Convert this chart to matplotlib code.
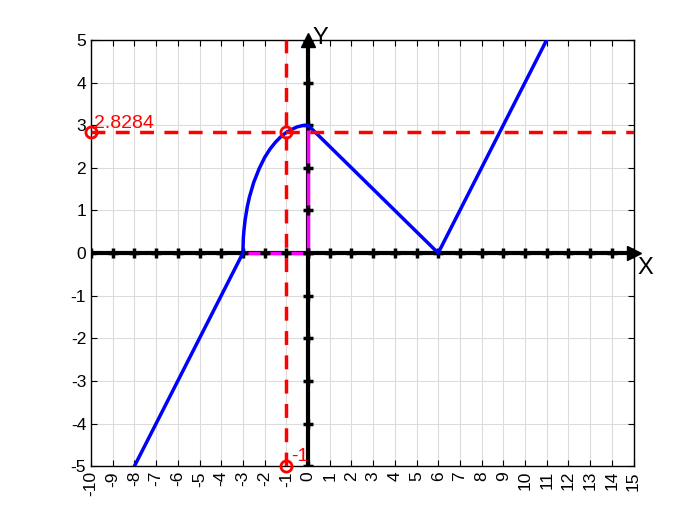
import numpy as np
import matplotlib
matplotlib.use("Agg")
import matplotlib.pyplot as plt

plt.rcParams['font.family'] = ['Liberation Sans', 'DejaVu Sans']
plt.rcParams['axes.unicode_minus'] = False

# curve
curve_x = [-8, -3, -3, -2.98, -2.95, -2.9, -2.8, -2.7, -2.5, -2.25, -2.0, -1.75,
           -1.5, -1.25, -1.0, -0.75, -0.5, -0.25, 0, 6, 11]
curve_y = [-5, 0, 0, 0.35, 0.54, 0.77, 1.08, 1.31, 1.66, 1.98, 2.24, 2.44,
           2.60, 2.73, 2.83, 2.90, 2.96, 2.99, 3, 0, 5]

x0 = -1
y0 = 2.8284
xlim = [-10, 15]
ylim = [-5, 5]
xticks = list(range(-10, 16))
yticks = list(range(-5, 6))
magenta_x = [-3, 0, 0]
magenta_y = [0, 0, 3]

fig = plt.figure(figsize=(7, 5.25), dpi=100)
ax = fig.add_axes([0.13, 0.112, 0.775, 0.812])
ax.set_xlim(xlim)
ax.set_ylim(ylim)
ax.set_xticks(xticks)
ax.set_yticks(yticks)
ax.set_xticklabels([str(t) for t in xticks], rotation=90)
ax.tick_params(direction='in', top=True, right=True, labelsize=12.5, length=4)
ax.grid(True, color='#dcdcdc', linewidth=0.8)
ax.set_axisbelow(True)
for s in ax.spines.values():
    s.set_linewidth(1.0)

# coordinate axes through origin
ax.plot(xlim, [0, 0], color='k', lw=3, zorder=3)
ax.plot([0, 0], ylim, color='k', lw=3, zorder=3)
ax.plot(magenta_x, magenta_y, color='magenta', lw=2.5, zorder=4)
ax.plot(xticks, [0] * len(xticks), 'k+', ms=7, mew=2.5, zorder=5)
ax.plot([0] * len(yticks), yticks, 'k+', ms=7, mew=2.5, zorder=5)
ax.plot([15], [0], 'k>', ms=10, clip_on=False, zorder=6)
ax.plot([0], [5], 'k^', ms=10, clip_on=False, zorder=6)
ax.text(15.2, -0.1, 'X', fontsize=17, va='top', ha='left')
ax.text(0.2, 5.05, 'Y', fontsize=17, va='center', ha='left')

# function curve
ax.plot(curve_x, curve_y, color='b', lw=2.5, zorder=7)

# red guides
ax.plot(xlim, [y0, y0], 'r--', lw=2.5, dashes=(4, 3), zorder=8)
ax.plot([x0, x0], ylim, 'r--', lw=2.5, dashes=(4, 3), zorder=8)
ax.plot([x0, xlim[0], x0], [y0, y0, ylim[0]], 'ro', mfc='none', mew=2, ms=8,
        clip_on=False, zorder=9)
ax.text(xlim[0] + 0.15, y0 + 0.02, '%.4f' % y0, color='r', fontsize=14, va='bottom')
ax.text(x0 + 0.2, ylim[0] + 0.02, '%d' % x0, color='r', fontsize=14, va='bottom')

fig.savefig('out.png')
